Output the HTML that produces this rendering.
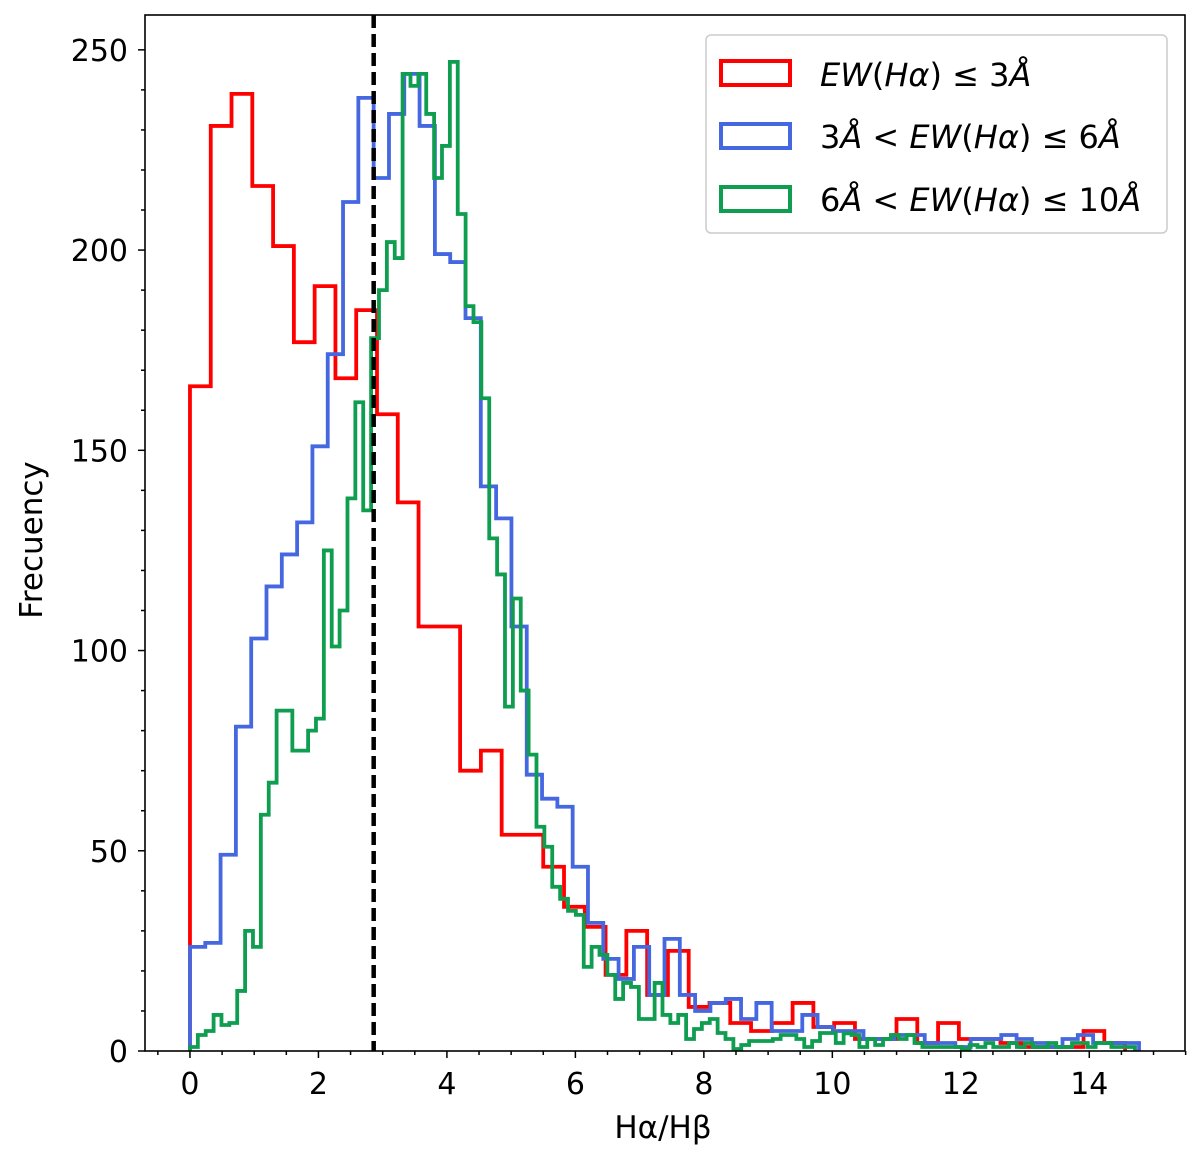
<!DOCTYPE html>
<html><head><meta charset="utf-8"><style>
body{margin:0;background:#fff;}
svg text{font-family:"DejaVu Sans","Liberation Sans",sans-serif;fill:#000;}
</style></head><body>
<svg id="chart" width="1200" height="1160" viewBox="0 0 1200 1160" xmlns="http://www.w3.org/2000/svg">
<g id="grid"></g>
<g id="series"></g>
<rect x="145" y="15" width="1040" height="1036" fill="none" stroke="#000" stroke-width="1.6"/>
<g id="axes"></g>
<text transform="translate(42,540) rotate(-90)" text-anchor="middle" font-size="31">Frecuency</text>
<text x="663" y="1138" text-anchor="middle" font-size="31">Hα/Hβ</text>
<g>
<rect x="706" y="35" width="461" height="198" rx="5" fill="#fff" stroke="#ccc" stroke-width="1.5"/>
<rect x="721" y="61" width="69" height="24" fill="none" stroke="#f00" stroke-width="4"/>
<text x="820" y="86" font-size="32"><tspan font-style="italic">EW</tspan>(<tspan font-style="italic">Hα</tspan>) ≤ 3<tspan font-style="italic">Å</tspan></text>
<rect x="721" y="124" width="69" height="24" fill="none" stroke="#4567e0" stroke-width="4"/>
<text x="820" y="148" font-size="32">3<tspan font-style="italic">Å</tspan> &lt; <tspan font-style="italic">EW</tspan>(<tspan font-style="italic">Hα</tspan>) ≤ 6<tspan font-style="italic">Å</tspan></text>
<rect x="721" y="187" width="69" height="24" fill="none" stroke="#0f9d50" stroke-width="4"/>
<text x="820" y="211" font-size="32">6<tspan font-style="italic">Å</tspan> &lt; <tspan font-style="italic">EW</tspan>(<tspan font-style="italic">Hα</tspan>) ≤ 10<tspan font-style="italic">Å</tspan></text>
</g>
</svg>
<script>
const redWidth = 0.3235;
const redCounts = [166,231,239,216,201,177,191,168,185,159,137,106,106,70,75,54,54,46,36,31,19,30,14,25,11,12,7,5,7,12,6,7,3,3,8,2,7,3,3,2,1,1,1,5,2];
const blueWidth = 0.2383;
const blueCounts = [26,27,49,81,103,116,124,132,151,174,212,238,218,234,244,231,199,197,183,141,133,106,69,63,61,46,32,23,18,26,14,28,14,10,12,13,8,12,5,5,9,6,5,5,3,3,4,4,2,2,1,3,3,4,3,2,1,3,4,2,2,2];
const greenWidth = 0.1226;
const greenCounts = [1,4,5,9,6.5,7,15,30,26,59,67,85,85,75,75,80,83,125,101,110,138,162,135,178,190,202,198,244,241,244,234,218,226,247,209,186,182,163,128,119,86,113,90,74,56,51,41,38,35,34,21,26,24,19,13,17,16,8,8,17,9,7,9,3,5.5,7,8,4.5,3,0.5,1.5,2.5,2.5,2.5,3,4,4,3,1,2.5,4.5,4.5,2,4.4,4,1,3,1.5,3,4,3,4,2,1,1,1,1,1,0.5,1.5,1,2,1,1,2,1,2,1,1,2,1,1,2,2,1,2,2,1,1,1];
const xTicks = [0,2,4,6,8,10,12,14];
const yTicks = [0,50,100,150,200,250];
const balmerLine = 2.86;

const X0=145,X1=1185,Y0=1051,Y1=15,XMIN=-0.7,XMAX=15.49,YMAX=258.7;
const sx=v=>X0+(v-XMIN)/(XMAX-XMIN)*(X1-X0);
const sy=v=>Y0-v/YMAX*(Y0-Y1);
const NS='http://www.w3.org/2000/svg';
const series=document.getElementById('series'),axes=document.getElementById('axes');
function mk(tag,attrs,parent){const e=document.createElementNS(NS,tag);for(const k in attrs)e.setAttribute(k,attrs[k]);parent.appendChild(e);return e;}
function step(counts,w,color,name){
  let d='M'+sx(0)+','+sy(0);
  counts.forEach((c,i)=>{d+=' L'+sx(i*w)+','+sy(c)+' L'+sx((i+1)*w)+','+sy(c);});
  d+=' L'+sx(counts.length*w)+','+sy(0);
  const p=mk('path',{d:d,fill:'none',stroke:color,'stroke-width':3.8,'stroke-linejoin':'miter'},series);
  
  
}
step(redCounts,redWidth,'#f00','histogram-red');
step(blueCounts,blueWidth,'#4567e0','histogram-blue');
step(greenCounts,greenWidth,'#0f9d50','histogram-green');
const dl=mk('line',{x1:sx(balmerLine),x2:sx(balmerLine),y1:Y1,y2:Y0,stroke:'#000','stroke-width':4.5,'stroke-dasharray':'13,6'},series);


for(let v=-0.5;v<=15.5;v+=0.5){const x=sx(v);const major=xTicks.includes(v);
  mk('line',{x1:x,x2:x,y1:Y0,y2:Y0+(major?7:4),stroke:'#000','stroke-width':1.5},axes);}
xTicks.forEach(v=>{const t=mk('text',{x:sx(v),y:1094,'text-anchor':'middle','font-size':30},axes);t.textContent=v;
  
  });
for(let v=0;v<=250;v+=10){const y=sy(v);const major=yTicks.includes(v);
  mk('line',{x1:X0,x2:X0-(major?7:4),y1:y,y2:y,stroke:'#000','stroke-width':1.5},axes);}
yTicks.forEach(v=>{const t=mk('text',{x:128,y:sy(v)+11,'text-anchor':'end','font-size':30},axes);t.textContent=v;
  
  });
</script>
</body></html>
